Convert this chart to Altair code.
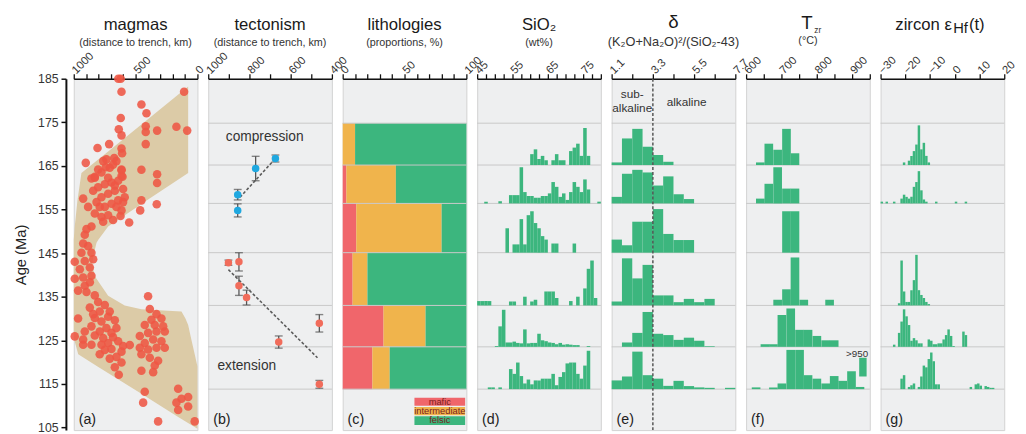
import altair as alt
import pandas as pd

FONT = "Liberation Sans"
W = 126
H = 358
AGE_DOMAIN = [104.4, 185.0]
GREEN = "#3cb67e"
TAN = "#dccba7"
MAGMA_RED = "#ee5744"
BLUE = "#1fa8e0"
SALMON = "#f16c5b"
GRID = "#c8c8c8"
BG = "#eeeff0"

# ---------------- time slices (Ma) ----------------
slice_edges = [174.8, 165.2, 156.4, 145.1, 133.0, 123.5, 113.8]
slice_base = [165.2, 156.4, 145.1, 133.0, 123.5, 113.8]

# ---------------- (a) magmas: distance to trench (km) vs age (Ma) ----------------
mag_dist_upper = [620, 640, 614, 108, 453, 412, 620, 636, 614, 418, 418, 326, 170, 83, 418,
                  808, 714, 614, 609, 673, 903, 762, 741, 830, 453, 326, 326, 614, 606]
mag_age_upper = [185.0, 185.0, 182.0, 182.0, 179.1, 177.1, 176.0, 173.4, 172.0, 174.1, 172.8,
                 173.1, 174.0, 173.1, 170.0, 169.1, 170.0, 169.0, 167.9, 166.8, 165.7, 166.1,
                 164.7, 162.5, 164.1, 163.1, 161.1, 164.0, 162.5]
mag_dist_cluster = [857, 830, 776, 736, 682, 614, 614, 641, 695, 749, 803, 843, 924, 884, 816,
                    776, 722, 668, 601, 588, 641, 695, 749, 830, 776, 722, 682, 622, 614, 552,
                    762, 857, 709, 655, 803, 722, 668, 790, 655, 601, 329, 463, 453, 897]
mag_age_cluster = [162.1, 162.3, 163.5, 166.5, 165.3, 164.2, 162.7, 161.6, 161.2, 160.8, 160.1,
                   159.3, 157.5, 155.6, 156.7, 157.8, 158.6, 159.3, 159.7, 157.8, 157.1, 156.3,
                   155.6, 154.1, 153.3, 153.7, 152.6, 153.5, 154.8, 152.0, 152.2, 151.1, 164.6,
                   166.1, 164.2, 162.3, 160.5, 155.6, 155.6, 156.7, 156.2, 154.8, 157.1, 150.5]
mag_dist_mid = [911, 924, 884, 938, 857, 992, 911, 843, 951, 870, 992, 924, 857, 965, 911, 870, 897, 830]
mag_age_mid = [149.2, 147.2, 146.6, 145.1, 145.1, 143.0, 143.2, 143.6, 141.3, 141.7, 139.1, 139.4,
               139.8, 136.4, 137.5, 138.3, 136.1, 135.3]
mag_dist_lowleft = [803, 749, 790, 709, 830, 776, 722, 857, 736, 790, 830, 762, 695, 655, 682, 722,
                    641, 601, 547, 614, 655, 614, 636, 790, 924, 965, 992, 911, 924, 857, 870, 843,
                    776, 749, 695, 668, 709, 668]
mag_age_lowleft = [133.8, 133.1, 131.6, 131.6, 130.1, 129.3, 130.4, 128.2, 127.8, 127.0, 126.1,
                   125.5, 126.7, 127.8, 125.7, 124.4, 124.8, 123.7, 123.9, 122.4, 121.2, 119.9,
                   117.1, 121.8, 124.0, 130.0, 125.9, 127.0, 125.2, 124.0, 132.5, 131.0, 124.0,
                   122.8, 123.0, 129.6, 120.8, 118.8]
mag_dist_right = [399, 385, 331, 291, 372, 426, 466, 264, 345, 277, 399, 331, 426, 358, 291, 399,
                  331, 264, 466, 385, 318, 345, 453, 358, 453]
mag_age_right = [135.1, 132.2, 131.0, 130.0, 129.7, 128.5, 126.0, 127.0, 128.5, 128.2, 126.7, 127.0,
                 124.4, 125.2, 124.8, 122.9, 123.3, 123.3, 123.3, 121.0, 120.3, 119.2, 118.0, 117.7,
                 121.8]
mag_dist_young = [426, 439, 156, 129, 75, 170, 75, 156, 318, 22]
mag_age_young = [113.2, 110.7, 113.9, 111.6, 112.0, 110.7, 109.8, 109.0, 106.4, 106.4]

# envelope of the magmatic front (age, far edge km, near edge km)
env_age = [183.2, 175.1, 168.3, 163.4, 157.1, 151.1, 148.1, 147.4, 144.2, 142.4, 139.7, 135.2,
           133.0, 132.1, 131.6, 130.0, 128.5, 125.5, 121.8, 119.0, 113.2, 107.5, 104.7]
env_far = [75, 428, 722, 938, 970, 992, 1000, 1000, 1000, 1000, 1000, 1000, 1000, 1000, 1000,
           1000, 1000, 1000, 964, 808, 479, 162, 0]
env_near = [75, 75, 75, 75, 408, 722, 800, 816, 843, 849, 830, 722, 588, 453, 129, 97, 75, 52,
            22, 0, 0, 0, 0]

# ---------------- (b) tectonism ----------------
comp_dist = [674, 770, 857, 857]
comp_age = [166.7, 164.4, 158.4, 154.8]
comp_err = [0.8, 2.8, 1.2, 1.5]
ext_dist = [902, 851, 851, 814, 658, 461, 461]
ext_age = [142.8, 143.0, 137.5, 134.8, 124.6, 128.9, 114.9]
ext_err = [0.6, 2.1, 2.2, 1.7, 1.4, 2.0, 0.9]
comp_trend_dist = [846, 674]
comp_trend_age = [157.8, 166.7]
ext_trend_dist = [902, 470]
ext_trend_age = [141.2, 121.0]
regime_labels = ["compression", "extension"]
regime_label_dist = [726, 813]
regime_label_age = [171.7, 119.2]

# ---------------- (c) lithologies (%) per slice ----------------
litho_names = ["mafic", "intermediate", "felsic"]
litho_colors = ["#f0666b", "#f0b44c", "#3cb67e"]
mafic_pct = [0, 3, 11, 8, 33, 24]
intermediate_pct = [10, 40, 69, 12, 34, 14]
legend_top = [111.8, 109.7, 107.6]
legend_bottom = [110.0, 107.8, 105.6]
legend_x = [58, 99]

# ---------------- (d) SiO2 histograms (1 wt% bins) ----------------
sio2_bins = [
    [60, 61, 62, 63, 64, 66, 67, 68, 69, 71, 72, 73, 74, 75, 76],
    [47, 51, 54, 55, 56, 57, 58, 59, 60, 61, 62, 63, 64, 65, 66, 67, 68, 69, 70, 71, 72, 73, 74, 75, 76, 79],
    [53, 55, 56, 57, 58, 59, 60, 61, 62, 63, 64, 66, 67, 72],
    [45, 46, 47, 48, 54, 55, 58, 60, 61, 64, 65, 66, 67, 71, 73, 75, 76, 77, 78],
    [50, 51, 52, 53, 54, 55, 56, 57, 58, 59, 60, 61, 62, 63, 64, 65, 66, 67, 68, 69, 70, 71, 72, 73, 76],
    [48, 49, 51, 54, 55, 56, 57, 58, 59, 60, 61, 62, 63, 64, 65, 66, 67, 68, 69, 70, 71, 72, 73, 74, 75, 76],
]
sio2_heights = [
    [2.5, 3.6, 1.4, 2.1, 1.1, 1.1, 2.5, 1.1, 1.1, 3.2, 4.0, 4.9, 2.1, 8.5, 2.1],
    [0.4, 0.5, 1.9, 1.9, 1.9, 8.3, 2.6, 1.7, 1.7, 1.3, 1.3, 1.7, 1.7, 2.3, 4.9, 3.8, 1.5, 2.3, 0.8, 2.6, 4.9, 3.8, 2.6, 5.5, 3.2, 0.4],
    [5.6, 1.9, 1.9, 7.7, 1.9, 8.6, 9.5, 6.8, 5.6, 3.8, 3.0, 2.1, 2.1, 2.1],
    [1.0, 1.0, 1.0, 1.0, 0.9, 0.9, 2.0, 0.9, 1.3, 3.2, 3.2, 3.2, 1.7, 1.0, 2.0, 3.9, 8.4, 10.3, 1.7],
    [0.2, 4.7, 8.5, 1.0, 1.0, 1.2, 0.9, 0.8, 4.0, 0.8, 0.9, 0.9, 3.0, 1.5, 1.3, 1.0, 0.9, 0.6, 0.9, 0.5, 0.6, 0.5, 0.4, 0.4, 0.2],
    [0.4, 0.4, 0.4, 4.6, 3.5, 6.1, 3.0, 1.3, 2.2, 1.1, 2.0, 2.0, 2.4, 2.4, 2.4, 3.5, 0.9, 2.8, 3.9, 5.9, 6.1, 6.1, 3.5, 2.4, 5.4, 8.8],
]

# ---------------- (e) delta histograms (bins of 0.55 from 1.1) ----------------
delta_bin_start = [1.1, 1.65, 2.2, 2.75, 3.3, 3.85, 4.4, 4.95, 5.5, 6.05, 6.6, 7.15]
delta_heights = [
    [0.6, 6.1, 8.3, 4.2, 2.3, 0.75, 0, 0, 0, 0, 0, 0],
    [1.5, 6.8, 7.7, 7.1, 4.1, 6.2, 2.1, 1.0, 0, 0, 0, 0],
    [3.0, 1.7, 7.1, 7.1, 10.0, 4.3, 2.9, 2.9, 0, 0, 0, 0],
    [0.9, 10.8, 6.2, 9.3, 2.3, 2.3, 0.75, 1.5, 0.75, 1.5, 0, 0],
    [0, 1.0, 3.2, 8.0, 3.0, 2.7, 1.6, 2.1, 1.4, 0.15, 0, 0],
    [2.0, 2.9, 8.6, 3.2, 2.4, 0.75, 1.9, 0.7, 0.4, 0.3, 0, 0.3],
]
delta_divide = [3.3]

# ---------------- (f) Tzr histograms (25 degC bins) ----------------
tzr_bins = [
    [628, 652, 677, 702, 726],
    [628, 652, 677, 702, 726],
    [702, 726],
    [677, 702, 726, 751, 824],
    [641, 665, 689, 714, 739, 763, 788, 813, 837],
    [616, 665, 689, 714, 739, 763, 788, 813, 837, 861, 886, 910],
]
tzr_heights = [
    [0.6, 4.9, 3.5, 8.3, 2.7],
    [1.1, 4.5, 8.3, 3.4, 3.4],
    [9.5, 9.5],
    [1.3, 3.7, 11.0, 1.3, 1.3],
    [0.6, 0.6, 7.3, 8.8, 3.9, 3.9, 2.5, 1.5, 1.5],
    [0.4, 0.4, 1.3, 9.0, 9.0, 3.2, 2.4, 1.3, 3.0, 1.9, 4.1, 0.5],
]
tzr_width = 24.5
tzr_over_x = [920, 941]
tzr_over_age = [116.7, 121.0]

# ---------------- (g) zircon eHf histograms (1 unit bins) ----------------
ehf_bins = [
    [-21, -19, -18, -17, -16, -15, -14, -13, -12, -11],
    [-30, -28, -25, -22, -21, -20, -19, -18, -17, -16, -15, -14, -13, -12, -8, 0, 4],
    [],
    [-23, -22, -21, -20, -19, -18, -17, -16, -15, -14, -13, -12, -11],
    [-25, -23, -22, -21, -20, -19, -18, -17, -16, -15, -14, -11, -10, -9, -8, -7, -6, -5, -4, -3, -2, -1, 3, 4],
    [-22, -21, -19, -18, -17, -15, -14, -13, -12, -11, -10, -9, -8, -7, 6, 8, 9, 10, 12, 13, 14, 15],
]
ehf_heights = [
    [0.6, 1.0, 2.1, 3.2, 4.7, 9.1, 3.6, 5.1, 2.1, 0.6],
    [0.4, 0.4, 0.4, 1.1, 2.0, 1.5, 1.1, 1.5, 3.8, 4.9, 7.4, 3.0, 0.9, 0.4, 0.4, 0.4, 0.4],
    [],
    [0.5, 10.3, 3.2, 0.8, 0.8, 3.5, 5.8, 11.6, 3.5, 2.4, 1.7, 0.8, 0.3],
    [0.5, 3.2, 5.8, 8.6, 7.0, 5.0, 1.4, 2.0, 1.5, 0.8, 0.8, 1.7, 1.4, 0.6, 0.6, 0.8, 0.8, 1.7, 2.7, 4.0, 2.5, 0.2, 3.5, 2.7],
    [2.4, 3.2, 0.5, 0.9, 1.3, 0.5, 2.9, 5.4, 5.0, 6.9, 8.4, 6.4, 1.1, 1.1, 0.5, 1.1, 1.3, 0.8, 0.7, 0.5, 0.3, 0.3],
]

# =====================================================================
yscale = alt.Scale(domain=AGE_DOMAIN, nice=False, zero=False)

y_axis = alt.Axis(orient="left", values=[185, 175, 165, 155, 145, 135, 125, 115, 105], format="d",
                  offset=8, domainColor="#111", domainWidth=2, tickColor="#111", tickWidth=1.5,
                  tickSize=5, labelFont=FONT, labelFontSize=12.5, labelColor="#333", labelPadding=3,
                  title="Age (Ma)", titleFont=FONT, titleFontSize=15, titleFontWeight="normal",
                  titleColor="#222", titlePadding=9, grid=False)


def top_axis(values, shown, fmt):
    cond = " || ".join("abs(datum.value - (%s)) < 0.001" % v for v in shown)
    return alt.Axis(orient="top", values=values, format=fmt,
                    labelExpr="(%s) ? datum.label : ''" % cond,
                    labelAngle=315, labelAlign="left", labelBaseline="middle",
                    labelOverlap=False, labelFlush=False, labelPadding=2,
                    labelFont=FONT, labelFontSize=11.5, labelColor="#333",
                    tickSize=5, tickColor="#111", tickWidth=1.3,
                    domainColor="#111", domainWidth=1.6, grid=False, title=None)


def X(field, domain, axis):
    return alt.X(field, type="quantitative", scale=alt.Scale(domain=domain, nice=False, zero=False), axis=axis)


def Y(field, axis=None):
    return alt.Y(field, type="quantitative", scale=yscale, axis=axis)


def text_px(text, x, y, size, color="#222", align="center"):
    return alt.Chart(pd.DataFrame({"t": [text]})).mark_text(
        font=FONT, fontSize=size, color=color, align=align, baseline="middle"
    ).encode(x=alt.value(x), y=alt.value(y), text="t:N")


def headers(title, subtitle, letter, tsize=17, ssize=11, ty=-55, sy=-36):
    out = [text_px(title, W / 2, ty, tsize, "#1a1a1a")]
    if subtitle:
        out.append(text_px(subtitle, W / 2, sy, ssize, "#333"))
    out.append(text_px(letter, 5, 348, 14.5, "#222", align="left"))
    return out


grid_df = pd.DataFrame({"age": slice_edges})


def grid_layer():
    return alt.Chart(grid_df).mark_rule(color=GRID, strokeWidth=1).encode(y=Y("age:Q"))


def hist_df(bins, heights, width):
    rows = []
    for base, b_row, h_row in zip(slice_base, bins, heights):
        for b, h in zip(b_row, h_row):
            if h > 0:
                rows.append({"x0": b, "x1": b + width, "y0": base, "y1": base + h})
    return pd.DataFrame(rows)


# ---------------- panel a ----------------
ax_a = top_axis(list(range(0, 1001, 100)), [0, 500, 1000], "d")
dom_a = [1000, 0]
mag_df = pd.DataFrame({
    "dist": mag_dist_upper + mag_dist_cluster + mag_dist_mid + mag_dist_lowleft + mag_dist_right + mag_dist_young,
    "age": mag_age_upper + mag_age_cluster + mag_age_mid + mag_age_lowleft + mag_age_right + mag_age_young,
})
env_df = pd.DataFrame({"age": env_age, "far": env_far, "near": env_near})
env = alt.Chart(env_df).mark_area(orient="horizontal", color=TAN, opacity=1).encode(
    x=X("far", dom_a, ax_a), x2="near:Q", y=Y("age:Q", y_axis))
pts_a = alt.Chart(mag_df).mark_circle(size=76, color=MAGMA_RED, opacity=0.88).encode(
    x=X("dist", dom_a, ax_a), y=Y("age:Q", y_axis))
panel_a = alt.layer(env, pts_a, *headers("magmas", "(distance to trench, km)", "(a)")).properties(width=W, height=H)

# ---------------- panel b ----------------
ax_b = top_axis(list(range(400, 1001, 100)), [400, 600, 800, 1000], "d")
dom_b = [1000, 400]
tect_df = pd.DataFrame({
    "dist": comp_dist + ext_dist,
    "age": comp_age + ext_age,
    "lo": [a - e for a, e in zip(comp_age + ext_age, comp_err + ext_err)],
    "hi": [a + e for a, e in zip(comp_age + ext_age, comp_err + ext_err)],
    "grp": ["compression"] * len(comp_dist) + ["extension"] * len(ext_dist),
})
trend_df = pd.DataFrame({
    "dist": comp_trend_dist + ext_trend_dist,
    "age": comp_trend_age + ext_trend_age,
    "grp": ["c", "c", "e", "e"],
})
lab_df = pd.DataFrame({"dist": regime_label_dist, "age": regime_label_age, "t": regime_labels})
trend = alt.Chart(trend_df).mark_line(strokeDash=[3, 2], color="#5a5a5a", strokeWidth=1.6).encode(
    x=X("dist", dom_b, ax_b), y=Y("age:Q"), detail="grp:N")
err = alt.Chart(tect_df).mark_rule(color="#555", strokeWidth=1.3).encode(
    x=X("dist", dom_b, ax_b), y=Y("lo:Q"), y2="hi:Q")
cap_lo = alt.Chart(tect_df).mark_tick(color="#555", orient="horizontal", size=8, thickness=1.4).encode(
    x=X("dist", dom_b, ax_b), y=Y("lo:Q"))
cap_hi = alt.Chart(tect_df).mark_tick(color="#555", orient="horizontal", size=8, thickness=1.4).encode(
    x=X("dist", dom_b, ax_b), y=Y("hi:Q"))
pts_b = alt.Chart(tect_df).mark_circle(size=58, opacity=1).encode(
    x=X("dist", dom_b, ax_b), y=Y("age:Q"),
    color=alt.Color("grp:N", scale=alt.Scale(domain=["compression", "extension"], range=[BLUE, SALMON]), legend=None))
labs_b = alt.Chart(lab_df).mark_text(font=FONT, fontSize=14, color="#333").encode(
    x=X("dist", dom_b, ax_b), y=Y("age:Q"), text="t:N")
panel_b = alt.layer(grid_layer(), trend, err, cap_lo, cap_hi, pts_b, labs_b,
                    *headers("tectonism", "(distance to trench, km)", "(b)")).properties(width=W, height=H)

# ---------------- panel c ----------------
ax_c = top_axis(list(range(0, 101, 10)), [0, 50, 100], "d")
dom_c = [0, 100]
lith_rows = []
for top, base, m, i in zip(slice_edges[:-1], slice_base, mafic_pct, intermediate_pct):
    lith_rows.append({"x0": 0, "x1": m, "y0": base, "y1": top, "kind": "mafic"})
    lith_rows.append({"x0": m, "x1": m + i, "y0": base, "y1": top, "kind": "intermediate"})
    lith_rows.append({"x0": m + i, "x1": 100, "y0": base, "y1": top, "kind": "felsic"})
lith_df = pd.DataFrame(lith_rows)
leg_df = pd.DataFrame({"kind": litho_names, "y0": legend_bottom, "y1": legend_top,
                       "x0": [legend_x[0]] * 3, "x1": [legend_x[1]] * 3,
                       "ym": [(a + b) / 2 for a, b in zip(legend_bottom, legend_top)],
                       "xm": [(legend_x[0] + legend_x[1]) / 2] * 3})
cscale = alt.Scale(domain=litho_names, range=litho_colors)
bars_c = alt.Chart(lith_df).mark_rect().encode(
    x=X("x0", dom_c, ax_c), x2="x1:Q", y=Y("y0:Q"), y2="y1:Q",
    color=alt.Color("kind:N", scale=cscale, legend=None))
leg_rect = alt.Chart(leg_df).mark_rect().encode(
    x=X("x0", dom_c, ax_c), x2="x1:Q", y=Y("y0:Q"), y2="y1:Q",
    color=alt.Color("kind:N", scale=cscale, legend=None))
leg_text = alt.Chart(leg_df).mark_text(font=FONT, fontSize=9.5, color="#7a1e1e").encode(
    x=X("xm", dom_c, ax_c), y=Y("ym:Q"), text="kind:N")
panel_c = alt.layer(bars_c, grid_layer(), leg_rect, leg_text,
                    *headers("lithologies", "(proportions, %)", "(c)")).properties(width=W, height=H)

# ---------------- panel d ----------------
ax_d = top_axis([45 + 2.5 * k for k in range(15)], [45, 55, 65, 75], "d")
dom_d = [45, 80]
bars_d = alt.Chart(hist_df(sio2_bins, sio2_heights, 1.0)).mark_rect(color=GREEN).encode(
    x=X("x0", dom_d, ax_d), x2="x1:Q", y=Y("y0:Q"), y2="y1:Q")
panel_d = alt.layer(grid_layer(), bars_d, *headers("SiO\u2082", "(wt%)", "(d)")).properties(width=W, height=H)

# ---------------- panel e ----------------
ax_e = top_axis([1.1, 2.2, 3.3, 4.4, 5.5, 6.6, 7.7], [1.1, 3.3, 5.5, 7.7], ".1f")
dom_e = [1.1, 7.7]
bars_e = alt.Chart(hist_df([delta_bin_start] * 6, delta_heights, 0.55)).mark_rect(color=GREEN).encode(
    x=X("x0", dom_e, ax_e), x2="x1:Q", y=Y("y0:Q"), y2="y1:Q")
div_e = alt.Chart(pd.DataFrame({"v": delta_divide})).mark_rule(
    color="#555", strokeDash=[3, 2], strokeWidth=1.5).encode(x=X("v", dom_e, ax_e))
etxt_df = pd.DataFrame({"x": [2.2, 2.2, 5.1], "age": [181.4, 178.3, 179.7],
                        "t": ["sub-", "alkaline", "alkaline"]})
txt_e = alt.Chart(etxt_df).mark_text(font=FONT, fontSize=12, color="#333").encode(
    x=X("x", dom_e, ax_e), y=Y("age:Q"), text="t:N")
panel_e = alt.layer(grid_layer(), bars_e, div_e, txt_e,
                    *headers("\u03b4", "(K\u2082O+Na\u2082O)\u00b2/(SiO\u2082-43)", "(e)",
                             tsize=19, ssize=13, ty=-58, sy=-37)).properties(width=W, height=H)

# ---------------- panel f ----------------
ax_f = top_axis(list(range(600, 951, 50)), [600, 700, 800, 900], "d")
dom_f = [600, 950]
bars_f = alt.Chart(hist_df(tzr_bins, tzr_heights, tzr_width)).mark_rect(color=GREEN).encode(
    x=X("x0", dom_f, ax_f), x2="x1:Q", y=Y("y0:Q"), y2="y1:Q")
over_df = pd.DataFrame({"x0": [tzr_over_x[0]], "x1": [tzr_over_x[1]],
                        "y0": [tzr_over_age[0]], "y1": [tzr_over_age[1]]})
over_bar = alt.Chart(over_df).mark_rect(color=GREEN).encode(
    x=X("x0", dom_f, ax_f), x2="x1:Q", y=Y("y0:Q"), y2="y1:Q")
over_txt = alt.Chart(pd.DataFrame({"x": [914], "age": [121.9], "t": [">950"]})).mark_text(
    font=FONT, fontSize=10, color="#333").encode(x=X("x", dom_f, ax_f), y=Y("age:Q"), text="t:N")
hdr_f = [text_px("T", 62, -57, 19, "#1a1a1a"), text_px("zr", 73, -50, 8.5, "#333"),
         text_px("(\u00b0C)", 63, -38, 11, "#333"), text_px("(f)", 5, 348, 14.5, "#222", align="left")]
panel_f = alt.layer(grid_layer(), bars_f, over_bar, over_txt, *hdr_f).properties(width=W, height=H)

# ---------------- panel g ----------------
ax_g = top_axis(list(range(-30, 21, 10)), [-30, -20, -10, 0, 10, 20], "d")
dom_g = [-30, 20]
bars_g = alt.Chart(hist_df(ehf_bins, ehf_heights, 1.0)).mark_rect(color=GREEN).encode(
    x=X("x0", dom_g, ax_g), x2="x1:Q", y=Y("y0:Q"), y2="y1:Q")
hdr_g = [text_px("zircon \u03b5", 15, -55, 17, "#1a1a1a", align="left"),
         text_px("Hf", 74, -52, 15, "#1a1a1a", align="left"),
         text_px("(t)", 90, -55, 17, "#1a1a1a", align="left"),
         text_px("(g)", 5, 348, 14.5, "#222", align="left")]
panel_g = alt.layer(grid_layer(), bars_g, *hdr_g).properties(width=W, height=H)

chart = alt.hconcat(panel_a, panel_b, panel_c, panel_d, panel_e, panel_f, panel_g,
                    spacing=11, bounds="flush").resolve_scale(
    x="independent", y="independent", color="independent"
).configure_view(fill=BG, stroke="#d2d2d2", strokeWidth=1).properties(
    padding={"left": 5, "top": 0, "right": 0, "bottom": 0}, background="white")

chart.save("out.html", embed_options={"renderer": "svg", "actions": False})
